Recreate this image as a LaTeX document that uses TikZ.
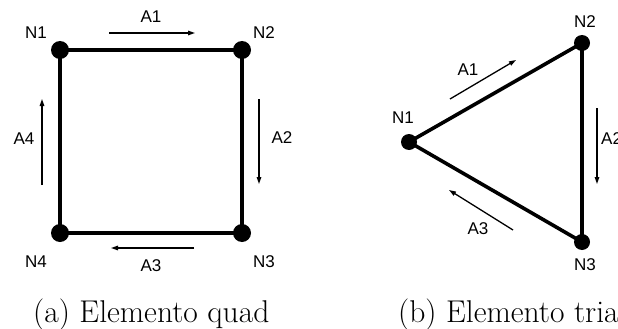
\documentclass[tikz,border=0pt]{standalone}
\usepackage{fontspec}
\newfontfamily\lab{Liberation Sans}
\usetikzlibrary{arrows.meta,backgrounds}
\begin{document}
\begin{tikzpicture}[x=1pt,y=-1pt,
  dot/.style={circle,fill=black,inner sep=0pt,minimum size=18pt},
  edge/.style={line width=4pt},
  dirarrow/.style={line width=1.3pt,-{Triangle[length=7pt,width=4.5pt]}},
  lbl/.style={font=\lab\fontsize{17}{19}\selectfont,inner sep=0pt},
  captext/.style={font=\fontsize{31.5}{34}\selectfont,inner sep=0pt,anchor=base west}]
\useasboundingbox (0,0) rectangle (618,329);
% quad element
\node[dot] (q1) at (60,50) {};
\node[dot] (q2) at (242,50) {};
\node[dot] (q3) at (242,233) {};
\node[dot] (q4) at (60,233) {};
\begin{pgfonlayer}{background}
\draw[edge] (q1.center) -- (q2.center) -- (q3.center) -- (q4.center) -- cycle;
\end{pgfonlayer}
\node[lbl] (qn1) at (36,33) {N1};
\node[lbl] (qn2) at (264,33) {N2};
\node[lbl] (qn3) at (264,262) {N3};
\node[lbl] (qn4) at (36,262) {N4};
\coordinate (qa1s) at (109,33); \coordinate (qa1e) at (195,33);
\coordinate (qa2s) at (259,99); \coordinate (qa2e) at (259,184);
\coordinate (qa3s) at (194,248); \coordinate (qa3e) at (111,248);
\coordinate (qa4s) at (42,185); \coordinate (qa4e) at (42,99);
\draw[dirarrow] (qa1s) -- (qa1e);
\draw[dirarrow] (qa2s) -- (qa2e);
\draw[dirarrow] (qa3s) -- (qa3e);
\draw[dirarrow] (qa4s) -- (qa4e);
\node[lbl] (qA1) at (151,17) {A1};
\node[lbl] (qA2) at (282,138) {A2};
\node[lbl] (qA3) at (151,266) {A3};
\node[lbl] (qA4) at (24,139) {A4};
% tria element
\node[dot,minimum size=16pt] (t1) at (409,142) {};
\node[dot,minimum size=16pt] (t2) at (582,43) {};
\node[dot,minimum size=16pt] (t3) at (582,242) {};
\begin{pgfonlayer}{background}
\draw[edge,line width=3.6pt] (t1.center) -- (t2.center) -- (t3.center) -- cycle;
\end{pgfonlayer}
\node[lbl] (tn1) at (403,118) {N1};
\node[lbl] (tn2) at (585,22) {N2};
\node[lbl] (tn3) at (585,265) {N3};
\coordinate (ta1s) at (450,99); \coordinate (ta1e) at (516,60);
\coordinate (ta2s) at (597,108); \coordinate (ta2e) at (597,184);
\coordinate (ta3s) at (513,230); \coordinate (ta3e) at (449,190);
\draw[dirarrow] (ta1s) -- (ta1e);
\draw[dirarrow] (ta2s) -- (ta2e);
\draw[dirarrow] (ta3s) -- (ta3e);
\node[lbl] (tA1) at (468,70) {A1};
\node[lbl,anchor=west] (tA2) at (601,139) {A2};
\node[lbl] (tA3) at (478,229) {A3};
% captions
\node[captext] (capa) at (33,322) {(a) Elemento quad};
\node[captext] (capb) at (398,322) {(b) Elemento tria};
\end{tikzpicture}
\end{document}
